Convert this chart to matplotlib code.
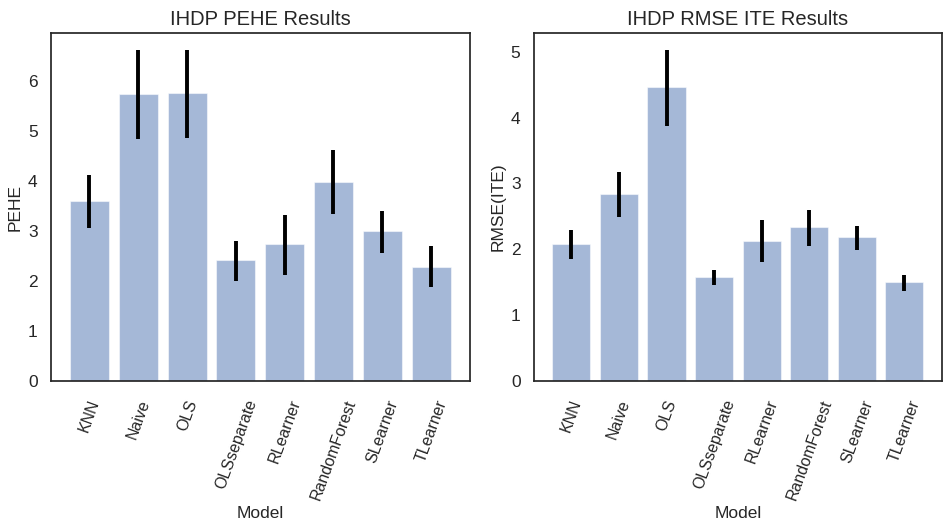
import matplotlib
matplotlib.use('Agg')
import matplotlib.pyplot as plt
import numpy as np
import seaborn as sns

sns.set_theme(style='white')
plt.rcParams['font.family'] = ['Liberation Sans', 'DejaVu Sans']

models = ['KNN', 'Naive', 'OLS', 'OLSseparate', 'RLearner',
          'RandomForest', 'SLearner', 'TLearner']

pehe = [3.59, 5.73, 5.76, 2.42, 2.74, 3.98, 3.00, 2.28]
pehe_lo = [3.05, 4.83, 4.85, 2.00, 2.12, 3.33, 2.56, 1.87]
pehe_hi = [4.12, 6.62, 6.62, 2.80, 3.31, 4.61, 3.39, 2.69]

rmse = [2.08, 2.84, 4.47, 1.58, 2.13, 2.34, 2.19, 1.51]
rmse_lo = [1.85, 2.49, 3.87, 1.46, 1.81, 2.05, 1.99, 1.37]
rmse_hi = [2.30, 3.17, 5.03, 1.68, 2.44, 2.59, 2.36, 1.61]

fig = plt.figure(figsize=(9.43, 5.23), dpi=100)
ax1 = fig.add_axes([0.054, 0.2715, 0.444, 0.665])
ax2 = fig.add_axes([0.566, 0.2715, 0.433, 0.665])

panels = [
    (ax1, pehe, pehe_lo, pehe_hi, 'PEHE', 'IHDP PEHE Results'),
    (ax2, rmse, rmse_lo, rmse_hi, 'RMSE(ITE)', 'IHDP RMSE ITE Results'),
]

for ax, vals, lo, hi, ylab, title in panels:
    vals = np.array(vals)
    yerr = [vals - np.array(lo), np.array(hi) - vals]
    x = np.arange(len(models))
    ax.bar(x, vals, width=0.8, color='#4c72b0', alpha=0.5,
           edgecolor='white', linewidth=0.8,
           yerr=yerr, error_kw=dict(ecolor='black', elinewidth=2.8, capsize=0))
    ax.set_xticks(x)
    ax.set_xticklabels(models, rotation=70, fontsize=11.5)
    ax.tick_params(axis='x', pad=6)
    ax.tick_params(axis='y', labelsize=12.5)
    ax.set_ylabel(ylab, fontsize=12.5)
    ax.set_xlabel('Model', fontsize=12.5, labelpad=3)
    ax.set_title(title, fontsize=14.5)

fig.savefig('out.png', dpi=100)
